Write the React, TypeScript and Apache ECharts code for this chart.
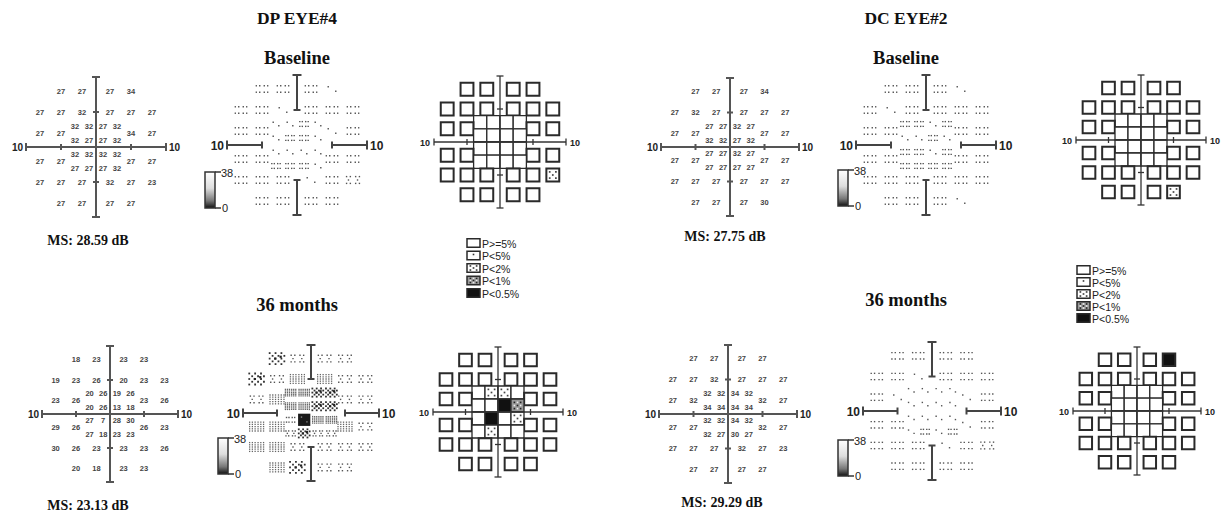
import React, { useEffect, useRef } from "react";
import * as echarts from "echarts";

// ---- test locations (degrees), row by row from top ----
const LOC_X = [-5, -2, 2, 5, -8, -5, -2, 2, 5, 8, -3, -1, 1, 3, -8, -5, 5, 8, -3, -1, 1, 3, -3, -1, 1, 3, -8, -5, 5, 8, -3, -1, 1, 3, -8, -5, -2, 2, 5, 8, -5, -2, 2, 5];
const LOC_Y = [8, 8, 8, 8, 5, 5, 5, 5, 5, 5, 3, 3, 3, 3, 2, 2, 2, 2, 1, 1, 1, 1, -1, -1, -1, -1, -2, -2, -2, -2, -3, -3, -3, -3, -5, -5, -5, -5, -5, -5, -8, -8, -8, -8];

// ---- threshold values (dB) ----
const DP_BASELINE = [27, 27, 27, 34, 27, 27, 32, 27, 27, 27, 32, 32, 27, 32, 27, 27, 34, 27, 32, 27, 27, 32, 32, 32, 32, 32, 27, 27, 27, 27, 27, 27, 27, 32, 27, 27, 27, 32, 27, 23, 27, 27, 27, 27];
const DP_36M = [18, 23, 23, 23, 19, 23, 26, 20, 23, 23, 20, 26, 19, 26, 23, 26, 23, 26, 20, 26, 13, 18, 27, 7, 28, 30, 29, 26, 26, 23, 27, 18, 23, 23, 30, 26, 23, 23, 23, 26, 20, 18, 23, 23];
const DC_BASELINE = [27, 27, 27, 34, 27, 32, 27, 27, 27, 27, 27, 27, 32, 27, 27, 27, 27, 27, 32, 32, 27, 32, 27, 27, 32, 27, 27, 27, 27, 27, 27, 27, 27, 27, 27, 27, 27, 27, 27, 27, 27, 27, 27, 30];
const DC_36M = [27, 27, 27, 27, 27, 27, 32, 27, 27, 27, 32, 32, 34, 32, 27, 32, 32, 27, 34, 34, 34, 34, 32, 32, 34, 32, 27, 27, 32, 27, 32, 27, 30, 27, 27, 27, 27, 32, 27, 23, 27, 27, 27, 27];

const DP_36M_GRAY = [4, 2, 2, 2, 4, 2, 3, 3, 2, 2, 3, 3, 4, 4, 2, 3, 2, 2, 3, 3, 4, 4, 1, 5, 3, 3, 3, 3, 3, 2, 2, 4, 2, 2, 3, 3, 2, 2, 2, 2, 3, 4, 2, 2];

// ---- pattern deviation levels: 0 P>=5%, 1 P<5%, 2 P<2%, 3 P<1%, 4 P<0.5% ----
const DP_BASELINE_PD = [0, 0, 0, 0, 0, 0, 0, 0, 0, 0, 0, 0, 0, 0, 0, 0, 0, 0, 0, 0, 0, 0, 0, 0, 0, 0, 0, 0, 0, 0, 0, 0, 0, 0, 0, 0, 0, 0, 0, 2, 0, 0, 0, 0];
const DP_36M_PD = [0, 0, 0, 0, 0, 0, 0, 0, 0, 0, 0, 2, 2, 0, 0, 0, 0, 0, 0, 0, 4, 3, 0, 4, 0, 2, 0, 0, 0, 0, 0, 2, 0, 0, 0, 0, 0, 0, 0, 0, 0, 0, 0, 0];
const DC_BASELINE_PD = [0, 0, 0, 0, 0, 0, 0, 0, 0, 0, 0, 0, 0, 0, 0, 0, 0, 0, 0, 0, 0, 0, 0, 0, 0, 0, 0, 0, 0, 0, 0, 0, 0, 0, 0, 0, 0, 0, 0, 0, 0, 0, 0, 2];
const DC_36M_PD = [0, 0, 0, 4, 0, 0, 0, 0, 0, 0, 0, 0, 0, 0, 0, 0, 0, 0, 0, 0, 0, 0, 0, 0, 0, 0, 0, 0, 0, 0, 0, 0, 0, 0, 0, 0, 0, 0, 0, 0, 0, 0, 0, 0];

const LEGEND_LABELS = ["P>=5%", "P<5%", "P<2%", "P<1%", "P<0.5%"];
const LEGEND_LEVELS = [0, 1, 2, 3, 4];
const END_LABELS = ["10", "10"];
const SCALE_LABELS = ["38", "0"];
const EYE_TITLES = ["DP EYE#4", "DC EYE#2"];
const VISIT_TITLES = ["Baseline", "36 months"];
const MS_LABELS = ["MS: 28.59 dB", "MS: 23.13 dB", "MS: 27.75 dB", "MS: 29.29 dB"];

function grayLevel(v: number) {
  if (v >= 30) return 0;
  if (v >= 27) return 1;
  if (v >= 23) return 2;
  if (v >= 19) return 3;
  if (v >= 12) return 4;
  return 5;
}

// ---- layout ----
const PANELS: any[] = [
  { kind: "thr", cx: 96, cy: 147, h: 70, data: DP_BASELINE },
  { kind: "gray", cx: 297, cy: 145, h: 70, data: DP_BASELINE.map(grayLevel) },
  { kind: "pd", cx: 500, cy: 142, h: 66, data: DP_BASELINE_PD },
  { kind: "thr", cx: 110, cy: 414, h: 68, data: DP_36M },
  { kind: "gray", cx: 311, cy: 413, h: 68, data: DP_36M_GRAY },
  { kind: "pd", cx: 498, cy: 412, h: 65, data: DP_36M_PD },
  { kind: "thr", cx: 730, cy: 147, h: 69, data: DC_BASELINE },
  { kind: "gray", cx: 926, cy: 145, h: 70, data: DC_BASELINE.map(grayLevel) },
  { kind: "pd", cx: 1141, cy: 140, h: 65, data: DC_BASELINE_PD },
  { kind: "thr", cx: 728, cy: 414, h: 69, data: DC_36M },
  { kind: "gray", cx: 932, cy: 411, h: 69, data: DC_36M.map(grayLevel) },
  { kind: "pd", cx: 1137, cy: 411, h: 64, data: DC_36M_PD },
];
const COLORBARS = [
  { x: 205, y: 172 },
  { x: 218, y: 438 },
  { x: 838, y: 170 },
  { x: 838, y: 440 },
];
const LEGENDS = [
  { x: 467, y: 243, dy: 12.5 },
  { x: 1077, y: 270, dy: 12 },
];

const SANS = "'Liberation Sans', Arial, sans-serif";
const SERIF = "'Liberation Serif', 'Times New Roman', serif";

function dot(x: number, y: number, s: number, c: string) {
  return { type: "rect", shape: { x: x - s / 2, y: y - s / 2, width: s, height: s }, style: { fill: c } };
}

function pdSymbol(cx: number, cy: number, w: number, h: number, lvl: number, lw: number) {
  const kids: any[] = [];
  const fill = lvl === 4 ? "#111" : lvl === 3 ? "#9a9a9a" : "#fff";
  kids.push({ type: "rect", shape: { x: cx - w / 2, y: cy - h / 2, width: w, height: h }, style: { fill, stroke: "#2a2a2a", lineWidth: lw } });
  if (lvl === 1) {
    kids.push(dot(cx, cy - h * 0.12, 1.6, "#333"));
  } else if (lvl === 2) {
    for (let i = -1; i <= 1; i++)
      for (let j = -1; j <= 1; j++)
        if ((i + j + 2) % 2 === 0) kids.push(dot(cx + i * w * 0.24, cy + j * h * 0.24, 1.7, "#444"));
  } else if (lvl === 3) {
    for (let i = -1; i <= 1; i++)
      for (let j = -1; j <= 1; j++)
        kids.push(dot(cx + i * w * 0.24, cy + j * h * 0.24, 1.6, (i + j + 2) % 2 === 0 ? "#222" : "#eee"));
  }
  return kids;
}

function grayPattern(cx: number, cy: number, w: number, lvl: number) {
  const k: any[] = [];
  const D = (ux: number, uy: number, s = 1.4, c = "#555") => k.push(dot(cx + ux * w, cy + uy * w, s, c));
  if (lvl === 0) {
    D(-0.2, -0.12); D(0.2, 0.12);
  } else if (lvl === 1) {
    for (const ux of [-0.3, -0.12, 0.12, 0.3]) for (const uy of [-0.17, 0.17]) D(ux, uy);
  } else if (lvl === 2) {
    for (const c of [-0.24, 0.24]) {
      D(c - 0.1, -0.18); D(c + 0.1, -0.18); D(c, 0); D(c - 0.1, 0.18); D(c + 0.1, 0.18);
    }
  } else if (lvl === 3) {
    for (const ux of [-0.38, -0.23, -0.08, 0.08, 0.23, 0.38])
      for (const uy of [-0.24, -0.12, 0, 0.12, 0.24]) D(ux, uy, 1.3, "#666");
  } else if (lvl === 4) {
    for (let i = 0; i < 6; i++) for (let j = 0; j < 5; j++) if ((i + j) % 2 === 0) D(-0.4 + i * 0.16, -0.3 + j * 0.15, 1.8, "#333");
    D(-0.1, 0, 2.2, "#222"); D(0.2, -0.1, 2.2, "#222");
  } else {
    k.push({ type: "rect", shape: { x: cx - 0.45 * w, y: cy - 0.45 * w, width: 0.9 * w, height: 0.9 * w }, style: { fill: "#1a1a1a" } });
    D(-0.2, -0.2, 1.4, "#888"); D(0.2, 0.15, 1.4, "#888");
  }
  return k;
}

function crossSeries(i: number, kind: string) {
  const st = kind === "pd"
    ? { c: "#333", lw: 1.3, cap: 3.5, tick: 3, fs: 9, gap: 4 }
    : kind === "gray"
      ? { c: "#444", lw: 2, cap: 4.5, tick: 3.5, fs: 12, gap: 3 }
      : { c: "#555", lw: 2, cap: 4, tick: 3, fs: 10, gap: 3 };
  return {
    type: "custom", coordinateSystem: "cartesian2d", xAxisIndex: i, yAxisIndex: i,
    data: [[0, 0]], encode: { x: 0, y: 1 }, clip: false, silent: true, z: 10,
    renderItem: (_p: any, api: any) => {
      const P = (x: number, y: number) => api.coord([x, y]);
      const seg = (a: number[], b: number[]) => ({ type: "line", shape: { x1: a[0], y1: a[1], x2: b[0], y2: b[1] }, style: { stroke: st.c, lineWidth: st.lw } });
      const kids: any[] = [];
      const L = P(-10, 0), R = P(10, 0), T = P(0, 10), B = P(0, -10);
      if (kind === "gray") kids.push(seg(L, P(-5, 0)), seg(P(5, 0), R), seg(T, P(0, 5)), seg(P(0, -5), B));
      else kids.push(seg(L, R), seg(T, B));
      for (const q of [L, R]) kids.push(seg([q[0], q[1] - st.cap], [q[0], q[1] + st.cap]));
      for (const q of [T, B]) kids.push(seg([q[0] - st.cap, q[1]], [q[0] + st.cap, q[1]]));
      for (const v of [-5, 5]) {
        const a = P(v, 0);
        kids.push(seg([a[0], a[1] - st.tick], [a[0], a[1] + st.tick]));
        const b = P(0, v);
        kids.push(seg([b[0] - st.tick, b[1]], [b[0] + st.tick, b[1]]));
      }
      kids.push({ type: "text", style: { text: END_LABELS[0], x: L[0] - st.gap, y: L[1] + 0.5, align: "right", verticalAlign: "middle", fontSize: st.fs, fontWeight: "bold", fontFamily: SANS, fill: "#222" } });
      kids.push({ type: "text", style: { text: END_LABELS[1], x: R[0] + st.gap, y: R[1] + 0.5, align: "left", verticalAlign: "middle", fontSize: st.fs, fontWeight: "bold", fontFamily: SANS, fill: "#222" } });
      return { type: "group", children: kids };
    },
  };
}

function panelSeries(p: any, i: number) {
  const base = { type: "custom", coordinateSystem: "cartesian2d", xAxisIndex: i, yAxisIndex: i, encode: { x: 0, y: 1 }, clip: false, silent: true };
  const data = LOC_X.map((x, k) => [x, LOC_Y[k], p.data[k]]);
  if (p.kind === "thr") {
    return [
      crossSeries(i, "thr"),
      {
        ...base, z: 5, data,
        renderItem: (_p: any, api: any) => {
          const c = api.coord([api.value(0), api.value(1)]);
          return { type: "text", style: { text: String(api.value(2)), x: c[0], y: c[1], align: "center", verticalAlign: "middle", fontSize: 7.5, fontWeight: "bold", fontFamily: SANS, fill: "#444" } };
        },
      },
    ];
  }
  if (p.kind === "gray") {
    return [
      {
        ...base, z: 5, data,
        renderItem: (_p: any, api: any) => {
          const x = api.value(0), y = api.value(1);
          const inner = Math.abs(x) <= 3 && Math.abs(y) <= 3;
          const c = api.coord([x, y]);
          const w = api.size([inner ? 2 : 2.7, 0])[0];
          return { type: "group", children: grayPattern(c[0], c[1], w, api.value(2)) };
        },
      },
      crossSeries(i, "gray"),
    ];
  }
  return [
    {
      ...base, z: 5, data,
      renderItem: (_p: any, api: any) => {
        const x = api.value(0), y = api.value(1);
        const inner = Math.abs(x) <= 3 && Math.abs(y) <= 3;
        const c = api.coord([x, y]);
        const s = api.size(inner ? [2, 2] : [1.95, 1.95]);
        return { type: "group", children: pdSymbol(c[0], c[1], s[0], s[1], api.value(2), inner ? 1.3 : 2) };
      },
    },
    crossSeries(i, "pd"),
  ];
}

function buildGraphic() {
  const g: any[] = [];
  const T = (text: string, x: number, y: number, fs: number) =>
    g.push({ type: "text", x, y, style: { text, align: "center", verticalAlign: "middle", fontSize: fs, fontWeight: "bold", fontFamily: SERIF, fill: "#111" } });
  T(EYE_TITLES[0], 297, 18, 17.5);
  T(EYE_TITLES[1], 906, 18, 17.5);
  T(VISIT_TITLES[0], 297, 58, 18.5);
  T(VISIT_TITLES[0], 906, 58, 18.5);
  T(VISIT_TITLES[1], 297, 305, 18.5);
  T(VISIT_TITLES[1], 906, 300, 18.5);
  T(MS_LABELS[0], 88, 240, 14);
  T(MS_LABELS[1], 88, 505, 14);
  T(MS_LABELS[2], 725, 236, 14);
  T(MS_LABELS[3], 722, 502, 14);

  for (const cb of COLORBARS) {
    const w = 10, h = 36;
    g.push({
      type: "rect", shape: { x: cb.x, y: cb.y, width: w, height: h },
      style: {
        fill: new echarts.graphic.LinearGradient(0, 0, 0, 1, [
          { offset: 0, color: "#ffffff" }, { offset: 0.45, color: "#dddddd" }, { offset: 0.8, color: "#777777" }, { offset: 1, color: "#111111" },
        ]),
        stroke: "#333", lineWidth: 1.5,
      },
    });
    g.push({ type: "line", shape: { x1: cb.x + w, y1: cb.y, x2: cb.x + w + 6, y2: cb.y }, style: { stroke: "#333", lineWidth: 1.5 } });
    g.push({ type: "line", shape: { x1: cb.x + w, y1: cb.y + h, x2: cb.x + w + 6, y2: cb.y + h }, style: { stroke: "#333", lineWidth: 1.5 } });
    g.push({ type: "text", x: cb.x + w + 6, y: cb.y + 1, style: { text: SCALE_LABELS[0], align: "left", verticalAlign: "middle", fontSize: 11, fontFamily: SANS, fill: "#222" } });
    g.push({ type: "text", x: cb.x + w + 7, y: cb.y + h, style: { text: SCALE_LABELS[1], align: "left", verticalAlign: "middle", fontSize: 11, fontFamily: SANS, fill: "#222" } });
  }

  for (const lg of LEGENDS) {
    LEGEND_LABELS.forEach((lab, k) => {
      const cy = lg.y + k * lg.dy;
      g.push({ type: "group", children: pdSymbol(lg.x + 6.5, cy, 13, 8.5, LEGEND_LEVELS[k], 1.5) });
      g.push({ type: "text", x: lg.x + 15, y: cy + 0.5, style: { text: lab, align: "left", verticalAlign: "middle", fontSize: 10.5, fontFamily: SANS, fill: "#222" } });
    });
  }
  return g;
}

export default function App() {
  const ref = useRef<HTMLDivElement>(null);
  useEffect(() => {
    if (!ref.current) return;
    const chart = echarts.init(ref.current, undefined, { renderer: "svg" });
    const option: any = {
      animation: false,
      backgroundColor: "#fff",
      grid: PANELS.map((p) => ({ left: p.cx - p.h, top: p.cy - p.h, width: 2 * p.h, height: 2 * p.h })),
      xAxis: PANELS.map((_p, i) => ({ type: "value", gridIndex: i, min: -10, max: 10, show: false })),
      yAxis: PANELS.map((_p, i) => ({ type: "value", gridIndex: i, min: -10, max: 10, show: false })),
      series: PANELS.flatMap((p, i) => panelSeries(p, i)),
      graphic: buildGraphic(),
    };
    chart.setOption(option);
    return () => chart.dispose();
  }, []);
  return <div ref={ref} style={{ position: "absolute", left: 0, top: 0, width: 1221, height: 516, background: "#fff" }} />;
}
